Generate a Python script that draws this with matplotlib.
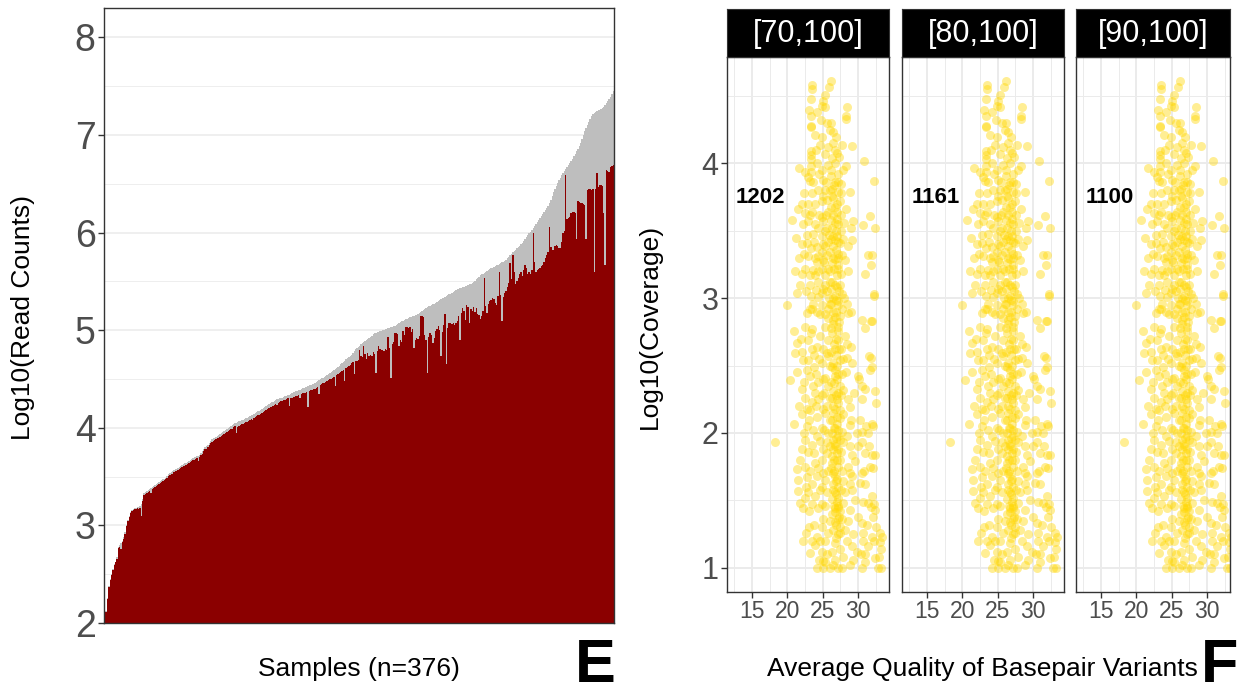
import numpy as np
import matplotlib
matplotlib.use("Agg")
import matplotlib.pyplot as plt

plt.rcParams['font.family'] = ['Liberation Sans', 'DejaVu Sans']

# --- panel E: log10 read counts per sample (sorted by total) ---
total_reads = [
    2.03, 2.12, 2.26, 2.38, 2.45, 2.50, 2.55, 2.60, 2.63, 2.68, 2.78, 2.80, 2.82, 2.84, 2.88, 2.93, 3.00, 3.06, 3.10, 3.14,
    3.16, 3.17, 3.18, 3.18, 3.19, 3.19, 3.20, 3.22, 3.27, 3.33, 3.34, 3.35, 3.36, 3.37, 3.38, 3.39, 3.40, 3.41, 3.42, 3.43,
    3.44, 3.45, 3.46, 3.47, 3.48, 3.49, 3.51, 3.53, 3.54, 3.55, 3.56, 3.57, 3.58, 3.58, 3.59, 3.60, 3.61, 3.62, 3.63, 3.64,
    3.64, 3.65, 3.66, 3.67, 3.68, 3.69, 3.70, 3.70, 3.71, 3.71, 3.72, 3.74, 3.76, 3.78, 3.80, 3.81, 3.82, 3.84, 3.86, 3.88,
    3.89, 3.90, 3.91, 3.92, 3.93, 3.94, 3.95, 3.96, 3.97, 3.98, 3.99, 4.00, 4.01, 4.02, 4.03, 4.04, 4.05, 4.05, 4.06, 4.07,
    4.07, 4.08, 4.08, 4.09, 4.10, 4.10, 4.11, 4.12, 4.13, 4.13, 4.14, 4.15, 4.16, 4.17, 4.17, 4.18, 4.19, 4.20, 4.21, 4.22,
    4.23, 4.24, 4.25, 4.26, 4.26, 4.27, 4.28, 4.29, 4.29, 4.30, 4.31, 4.31, 4.32, 4.33, 4.33, 4.34, 4.34, 4.35, 4.36, 4.37,
    4.37, 4.38, 4.38, 4.39, 4.39, 4.40, 4.41, 4.41, 4.42, 4.42, 4.43, 4.44, 4.44, 4.45, 4.45, 4.46, 4.47, 4.48, 4.49, 4.50,
    4.51, 4.51, 4.52, 4.53, 4.54, 4.55, 4.56, 4.57, 4.58, 4.59, 4.60, 4.61, 4.62, 4.63, 4.65, 4.66, 4.67, 4.68, 4.70, 4.71,
    4.72, 4.74, 4.75, 4.77, 4.79, 4.81, 4.82, 4.83, 4.84, 4.86, 4.87, 4.88, 4.89, 4.90, 4.91, 4.92, 4.93, 4.94, 4.96, 4.97,
    4.97, 4.98, 4.98, 4.99, 4.99, 5.00, 5.00, 5.01, 5.01, 5.02, 5.02, 5.03, 5.03, 5.04, 5.04, 5.05, 5.06, 5.07, 5.08, 5.09,
    5.09, 5.10, 5.11, 5.11, 5.12, 5.13, 5.13, 5.14, 5.14, 5.15, 5.16, 5.17, 5.18, 5.19, 5.20, 5.21, 5.22, 5.23, 5.24, 5.25,
    5.25, 5.26, 5.27, 5.27, 5.28, 5.29, 5.30, 5.31, 5.32, 5.33, 5.33, 5.34, 5.35, 5.36, 5.37, 5.37, 5.38, 5.39, 5.40, 5.41,
    5.42, 5.42, 5.43, 5.43, 5.44, 5.44, 5.45, 5.45, 5.46, 5.47, 5.47, 5.48, 5.49, 5.50, 5.52, 5.53, 5.54, 5.56, 5.57, 5.58,
    5.59, 5.60, 5.61, 5.62, 5.63, 5.64, 5.64, 5.65, 5.66, 5.67, 5.67, 5.68, 5.69, 5.70, 5.70, 5.71, 5.72, 5.74, 5.75, 5.77,
    5.78, 5.80, 5.81, 5.82, 5.84, 5.85, 5.86, 5.88, 5.89, 5.91, 5.93, 5.95, 5.97, 5.99, 6.01, 6.03, 6.05, 6.07, 6.09, 6.11,
    6.13, 6.15, 6.17, 6.19, 6.21, 6.23, 6.25, 6.27, 6.30, 6.33, 6.37, 6.41, 6.45, 6.48, 6.51, 6.54, 6.56, 6.59, 6.61, 6.63,
    6.65, 6.67, 6.69, 6.71, 6.73, 6.75, 6.78, 6.80, 6.83, 6.86, 6.89, 6.92, 6.96, 7.00, 7.04, 7.07, 7.10, 7.13, 7.16, 7.19,
    7.21, 7.22, 7.23, 7.24, 7.25, 7.26, 7.27, 7.28, 7.29, 7.31, 7.33, 7.35, 7.37, 7.39, 7.42, 7.45,
]
mapped_reads = [
    2.02, 2.11, 2.25, 2.37, 2.44, 2.49, 2.54, 2.59, 2.62, 2.66, 2.77, 2.78, 2.76, 2.83, 2.86, 2.91, 2.99, 3.05, 3.09, 3.13,
    3.15, 3.16, 3.17, 3.17, 3.18, 3.17, 3.18, 3.10, 3.25, 3.31, 3.32, 3.33, 3.34, 3.35, 3.33, 3.37, 3.38, 3.39, 3.40, 3.41,
    3.42, 3.43, 3.44, 3.45, 3.46, 3.47, 3.49, 3.51, 3.52, 3.53, 3.53, 3.55, 3.56, 3.56, 3.57, 3.58, 3.59, 3.60, 3.61, 3.61,
    3.62, 3.63, 3.64, 3.65, 3.66, 3.67, 3.67, 3.68, 3.69, 3.66, 3.70, 3.72, 3.73, 3.76, 3.78, 3.78, 3.80, 3.82, 3.84, 3.85,
    3.86, 3.87, 3.88, 3.89, 3.90, 3.91, 3.92, 3.93, 3.94, 3.95, 3.96, 3.97, 3.98, 3.99, 3.99, 4.01, 4.02, 3.95, 4.01, 4.02,
    4.03, 4.04, 4.04, 4.05, 4.06, 4.06, 4.07, 4.08, 4.09, 4.08, 4.10, 4.11, 4.12, 4.13, 4.13, 4.14, 4.15, 4.16, 4.17, 4.18,
    4.19, 4.20, 4.21, 4.21, 4.22, 4.23, 4.24, 4.23, 4.25, 4.26, 4.27, 4.27, 4.28, 4.28, 4.29, 4.30, 4.22, 4.31, 4.31, 4.32,
    4.32, 4.33, 4.33, 4.34, 4.30, 4.35, 4.36, 4.36, 4.36, 4.37, 4.21, 4.38, 4.39, 4.39, 4.40, 4.40, 4.41, 4.42, 4.35, 4.44,
    4.45, 4.46, 4.46, 4.47, 4.48, 4.49, 4.50, 4.50, 4.51, 4.52, 4.43, 4.54, 4.55, 4.56, 4.57, 4.58, 4.59, 4.48, 4.61, 4.62,
    4.63, 4.64, 4.66, 4.67, 4.55, 4.68, 4.68, 4.69, 4.80, 4.74, 4.72, 4.84, 4.76, 4.70, 4.77, 4.74, 4.75, 4.73, 4.78, 4.76,
    4.56, 4.79, 4.84, 4.81, 4.80, 4.80, 4.79, 4.81, 4.80, 4.93, 4.82, 4.51, 4.86, 4.88, 4.97, 4.97, 4.96, 4.84, 4.90, 4.88,
    4.99, 4.95, 5.03, 5.03, 5.02, 5.03, 4.98, 5.01, 4.82, 4.90, 4.92, 4.91, 4.94, 5.14, 5.14, 5.13, 4.95, 4.90, 4.56, 4.93,
    4.97, 4.95, 4.87, 4.92, 4.99, 5.01, 5.04, 5.00, 4.73, 4.98, 5.05, 5.17, 4.65, 5.02, 5.07, 5.07, 5.06, 5.07, 5.05, 5.07,
    5.09, 5.14, 4.90, 5.18, 5.23, 5.20, 5.10, 5.26, 5.24, 5.07, 5.22, 5.20, 5.24, 5.19, 5.23, 5.17, 5.15, 5.11, 5.14, 5.20,
    5.53, 5.25, 5.18, 5.27, 5.30, 5.31, 5.33, 5.32, 5.28, 5.26, 5.35, 5.60, 5.36, 5.09, 5.34, 5.38, 5.40, 5.44, 5.48, 5.69,
    5.52, 5.77, 5.60, 5.47, 5.50, 5.53, 5.58, 5.60, 5.55, 5.62, 5.67, 5.64, 5.57, 5.60, 5.58, 5.62, 5.99, 5.70, 5.60, 5.62,
    5.63, 5.64, 5.66, 5.67, 5.70, 5.74, 5.77, 5.80, 6.06, 5.85, 5.82, 5.82, 5.86, 5.87, 5.86, 5.84, 5.84, 5.90, 5.99, 6.02,
    6.59, 6.14, 6.15, 6.16, 6.20, 6.21, 6.21, 6.20, 5.93, 6.32, 6.31, 6.30, 6.30, 6.29, 6.28, 5.93, 6.44, 6.45, 6.45, 6.44,
    6.45, 5.60, 6.45, 6.61, 6.47, 6.49, 6.49, 6.48, 6.20, 5.67, 6.64, 6.63, 6.62, 6.67, 6.68, 6.69,
]

# --- panel F: average base quality vs log10 coverage per variant ---
facet_labels = ['[70,100]', '[80,100]', '[90,100]']
facet_counts = ['1202', '1161', '1100']

avg_quality = [
    26.17, 25.94, 23.54, 23.54, 25.33, 25.09, 24.95, 23.36, 25.33, 28.38, 28.24, 28.24,
    23.36, 23.36, 23.36, 24.72, 23.92, 24.86, 26.03, 26.50, 26.83, 27.68, 29.08, 24.62,
    23.36, 23.36, 23.36, 25.33, 26.27, 27.30, 30.87, 21.67, 22.51, 23.36, 23.36, 24.15,
    24.86, 25.80, 26.74, 28.24, 32.28, 23.22, 23.69, 25.09, 26.17, 26.74, 27.58, 28.85,
    25.33, 26.27, 27.11, 22.04, 22.98, 23.92, 24.86, 25.56, 26.50, 27.44, 22.51, 23.54,
    24.48, 25.80, 26.97, 20.63, 22.98, 23.92, 25.09, 26.17, 27.21, 29.32, 31.67, 30.73,
    32.37, 29.00, 21.24, 22.75, 23.69, 24.86, 25.89, 26.97, 22.75, 24.15, 25.33, 26.50,
    27.44, 28.62, 29.08, 23.36, 21.67, 22.98, 24.39, 25.56, 26.74, 27.68, 31.34, 32.00,
    31.76, 21.10, 22.51, 23.69, 24.86, 26.03, 27.21, 30.96, 21.81, 23.22, 24.39, 25.33,
    26.36, 27.44, 21.34, 32.28, 32.28, 23.36, 24.39, 25.56, 26.74, 27.68, 19.93, 23.69,
    24.86, 26.03, 27.21, 28.38, 22.75, 24.15, 25.33, 26.50, 27.44, 28.62, 30.49, 31.81,
    26.27, 26.74, 26.17, 26.97, 26.36, 26.74, 26.03, 26.83, 26.27, 26.97, 26.17,
    26.83, 25.80, 25.23, 25.33, 25.56, 24.86, 25.09, 24.15, 23.92, 23.54,
    20.87, 21.34, 21.10, 22.51, 22.98, 23.54, 24.15, 25.33, 26.27, 27.21,
    28.15, 29.00, 30.96, 31.90, 31.53, 31.81, 32.00, 31.67, 30.12, 30.49,
    30.96, 32.37, 32.60, 30.59, 30.02, 29.08, 28.38, 20.40, 22.04, 21.67,
    21.00, 18.19, 22.75, 23.22, 22.98, 23.83, 24.86, 25.80, 24.39, 25.33,
    26.74, 27.68, 27.91, 28.62, 22.51, 23.45, 24.86, 26.03, 27.21, 28.85,
    22.13, 23.08, 24.15, 25.33, 26.27, 27.44, 30.26, 31.06, 31.90, 32.14,
    22.75, 23.69, 24.86, 26.74, 27.68, 28.85, 30.49, 31.43, 22.51, 23.54,
    24.62, 25.56, 26.74, 27.91, 28.85, 30.49, 31.53, 30.96, 31.90, 32.37,
    21.81, 21.34, 22.51, 23.92, 24.86, 26.27, 27.44, 28.62, 29.55, 30.49,
    31.67, 21.48, 21.48, 22.75, 24.15, 25.33, 26.74, 27.91, 29.08, 30.26,
    32.14, 21.81, 22.28, 22.98, 23.92, 24.62, 25.56, 26.27, 27.21, 28.15,
    29.08, 30.73, 31.43, 31.90, 32.28, 32.37, 32.14, 22.51, 23.45, 24.86,
    26.74, 27.21, 27.68, 28.85, 30.02, 30.49, 31.20, 23.83, 24.86, 25.96,
    26.50, 22.65, 22.28, 24.15, 24.62, 25.80, 27.21, 28.15, 29.32, 30.73,
    31.90, 33.08, 33.40, 33.08, 33.31, 32.28, 30.73, 29.08, 29.79, 30.40,
    32.37, 23.22, 23.92, 24.86, 25.56, 26.27, 27.44, 27.91, 25.09, 26.74,
    24.15, 25.09, 26.03, 27.21, 27.68, 30.49, 32.84, 33.31, 25.33, 29.32, 30.96,
    26.50, 27.21, 26.74, 27.44, 26.27, 26.97, 27.44, 26.50, 26.97, 27.44, 26.50,
    26.97, 27.21, 26.50, 26.97, 26.27, 27.21, 26.50, 26.74, 26.97, 25.80, 25.56,
    25.80, 25.56, 25.80, 25.56, 25.80, 23.45, 22.28, 23.69, 23.22,
    26.6, 27.0, 26.4, 26.9, 26.5, 27.1, 26.6, 27.0, 26.5, 26.9, 26.4,
    27.1, 26.6, 26.9, 26.4, 27.1, 26.6, 26.9, 26.4, 27.0, 26.6, 26.9,
    26.4, 27.0, 26.6, 26.9, 26.5, 27.1, 26.8, 27.3, 26.9,
    23.0, 24.2, 25.6, 24.0, 25.8, 26.4, 27.0, 22.9, 24.5, 25.5, 27.2,
    27.8, 22.3, 23.5, 24.3, 25.0, 27.6, 21.5, 23.2, 24.9, 25.5, 27.6,
    28.3, 22.2, 24.3, 25.3, 27.6, 28.0, 22.0, 23.8, 25.0, 25.7, 27.9,
    22.4, 23.9, 25.0, 27.2, 28.2, 22.1, 23.2, 24.3, 25.7, 27.6, 28.6,
    22.6, 24.0, 24.9, 25.9, 27.3, 28.0, 23.2, 24.6, 25.7, 27.7, 29.0,
    21.9, 23.3, 24.6, 25.0, 27.6, 28.5, 22.0, 23.8, 24.5, 27.9,
    21.4, 24.1, 25.0, 27.0, 28.3, 22.4, 23.9, 24.4, 25.2, 27.6,
    29.4, 22.8, 24.0, 25.0, 27.9, 29.0, 22.3, 24.2, 25.2, 27.5,
    28.4, 29.8, 22.9, 23.8, 25.0, 27.6, 29.1, 30.0, 22.0, 23.2,
    24.3, 25.0, 27.7, 28.9, 30.9, 22.6, 23.5, 24.9, 27.6, 28.8,
    31.0, 23.0, 24.3, 25.3, 27.8, 29.5, 31.8, 23.1, 25.0, 27.5,
    28.6, 32.6, 23.5, 25.3, 26.8, 28.4, 31.4, 24.5, 26.4, 28.8,
    31.0, 32.9,
    26.2, 26.8, 26.2, 27.1, 26.0, 26.7, 26.1, 27.2, 26.4, 27.2,
    26.0, 26.7, 27.2, 26.2, 26.8, 27.3, 26.1, 26.9, 26.2, 27.3,
    26.0, 26.7, 26.1, 27.2, 26.3, 26.8, 26.0, 27.2, 26.3, 26.8,
    26.0, 27.1, 26.6, 26.1, 27.0, 26.4, 26.9, 27.2, 26.6, 27.1,
    26.7, 27.4, 26.9, 27.5, 26.3,
]
log10_coverage = [
    4.61, 4.57, 4.58, 4.55, 4.51, 4.46, 4.43, 4.48, 4.42, 4.42, 4.35, 4.33,
    4.35, 4.28, 4.27, 4.32, 4.21, 4.20, 4.25, 4.23, 4.20, 4.14, 4.13, 4.14,
    4.09, 4.06, 4.03, 4.07, 4.04, 4.05, 4.02, 3.97, 3.94, 3.98, 3.94, 4.00,
    3.95, 3.99, 4.00, 3.98, 3.87, 3.87, 3.86, 3.88, 3.91, 3.86, 3.85, 3.79,
    3.80, 3.81, 3.79, 3.70, 3.70, 3.70, 3.72, 3.73, 3.74, 3.72, 3.63, 3.64,
    3.62, 3.64, 3.64, 3.58, 3.57, 3.55, 3.57, 3.58, 3.55, 3.57, 3.61, 3.54,
    3.52, 3.52, 3.45, 3.47, 3.48, 3.46, 3.47, 3.46, 3.41, 3.38, 3.39, 3.39,
    3.41, 3.39, 3.43, 3.37, 3.30, 3.31, 3.31, 3.32, 3.29, 3.32, 3.32, 3.32,
    3.25, 3.20, 3.22, 3.21, 3.22, 3.20, 3.22, 3.18, 3.10, 3.10, 3.12, 3.10,
    3.12, 3.10, 3.04, 3.03, 3.02, 3.02, 3.01, 3.05, 3.02, 3.03, 2.95, 2.96,
    2.95, 2.96, 2.95, 2.96, 2.89, 2.90, 2.88, 2.90, 2.87, 2.89, 2.84, 2.83,
    3.76, 3.68, 3.68, 3.59, 3.52, 3.43, 3.34, 3.36, 3.26, 3.17, 3.07,
    2.99, 2.92, 3.27, 3.17, 3.52, 3.34, 3.07, 3.27, 3.17, 2.92,
    2.76, 2.67, 2.59, 2.79, 2.69, 2.77, 2.64, 2.79, 2.74, 2.79,
    2.72, 2.64, 2.78, 2.83, 2.57, 2.56, 2.49, 2.47, 2.40, 2.35,
    2.33, 2.31, 2.22, 2.25, 2.42, 2.52, 2.56, 2.39, 2.33, 2.20,
    2.07, 1.93, 2.47, 2.42, 2.54, 2.49, 2.52, 2.57, 2.38, 2.41,
    2.47, 2.44, 2.32, 2.25, 2.26, 2.23, 2.28, 2.26, 2.22, 2.19,
    2.14, 2.10, 2.12, 2.15, 2.10, 2.11, 2.10, 2.05, 2.07, 2.05,
    2.05, 2.02, 2.04, 2.04, 2.01, 2.06, 2.01, 2.00, 1.95, 1.91,
    1.94, 1.93, 1.90, 1.93, 1.90, 1.93, 1.90, 1.85, 1.84, 1.84,
    1.80, 1.73, 1.75, 1.78, 1.80, 1.78, 1.80, 1.75, 1.79, 1.70,
    1.75, 1.65, 1.57, 1.67, 1.68, 1.65, 1.68, 1.64, 1.68, 1.63,
    1.74, 1.48, 1.44, 1.56, 1.53, 1.58, 1.56, 1.51, 1.60, 1.56,
    1.58, 1.49, 1.48, 1.53, 1.47, 1.43, 1.38, 1.52, 1.47, 1.47,
    1.41, 1.46, 1.36, 1.43, 1.38, 1.33, 1.32, 1.32, 1.30, 1.35,
    1.28, 1.26, 1.20, 1.23, 1.20, 1.26, 1.25, 1.28, 1.25, 1.26,
    1.23, 1.26, 1.23, 1.19, 1.14, 1.20, 1.20, 1.16, 1.12, 1.10,
    1.07, 1.11, 1.17, 1.12, 1.10, 1.12, 1.14, 1.08, 1.05, 1.06,
    1.00, 1.00, 1.00, 1.00, 1.00, 1.00, 1.00, 1.00, 1.04, 1.06, 1.04,
    2.81, 2.69, 2.62, 2.54, 2.49, 2.40, 2.35, 2.31, 2.25, 2.17, 2.15,
    2.07, 1.98, 1.95, 1.85, 1.83, 1.75, 1.70, 1.56, 1.49, 2.69, 2.59,
    2.35, 2.20, 2.00, 1.85, 1.72, 2.62, 2.54, 2.35, 2.17,
    3.84, 3.70, 3.62, 3.50, 3.46, 3.33, 3.22, 3.08, 3.00, 2.90, 2.84,
    2.76, 2.66, 2.58, 2.52, 2.44, 2.37, 2.28, 2.20, 2.12, 2.04, 1.96,
    1.88, 1.80, 1.72, 1.64, 1.58, 1.52, 1.44, 1.38, 1.32,
    4.40, 4.38, 4.30, 4.10, 4.12, 4.15, 4.08, 3.90, 3.92, 3.86, 3.92,
    3.95, 3.78, 3.78, 3.80, 3.76, 3.78, 3.66, 3.62, 3.60, 3.62, 3.62,
    3.66, 3.55, 3.52, 3.50, 3.50, 3.56, 3.40, 3.42, 3.40, 3.42, 3.44,
    3.33, 3.30, 3.28, 3.30, 3.28, 3.18, 3.17, 3.20, 3.22, 3.18, 3.20,
    3.05, 3.06, 3.04, 3.00, 3.05, 3.00, 2.92, 2.88, 2.85, 2.92, 2.90,
    2.70, 2.74, 2.72, 2.62, 2.62, 2.66, 2.60, 2.58, 2.55, 2.55,
    2.45, 2.44, 2.40, 2.50, 2.45, 2.38, 2.30, 2.25, 2.30, 2.28,
    2.30, 2.18, 2.20, 2.18, 2.14, 2.10, 2.00, 1.98, 2.02, 1.95,
    1.98, 2.00, 1.86, 1.85, 1.88, 1.86, 1.84, 1.90, 1.88, 1.72,
    1.74, 1.70, 1.72, 1.70, 1.72, 1.60, 1.62, 1.60, 1.58, 1.62,
    1.62, 1.42, 1.44, 1.46, 1.48, 1.50, 1.45, 1.30, 1.36, 1.30,
    1.35, 1.30, 1.20, 1.20, 1.18, 1.20, 1.16, 1.06, 1.02, 1.02,
    1.10, 1.08,
    4.30, 4.10, 3.95, 3.86, 3.80, 3.56, 3.44, 3.42, 3.30, 3.25,
    3.12, 3.10, 2.98, 2.96, 2.86, 2.82, 2.78, 2.70, 2.60, 2.62,
    2.50, 2.42, 2.38, 2.30, 2.26, 2.18, 2.10, 2.02, 2.00, 1.92,
    1.90, 1.88, 1.80, 1.74, 1.66, 1.62, 1.55, 1.44, 1.46, 1.36,
    1.34, 1.26, 1.22, 1.42, 1.40,
]
assert len(total_reads) == len(mapped_reads) == 376
assert len(avg_quality) == len(log10_coverage)

W, H = 1239, 696
fig = plt.figure(figsize=(W / 100, H / 100), dpi=100)

TICK = '#4D4D4D'
GRID = '#EBEBEB'
BORDER = '#333333'


def rect(x0, y0, x1, y1):
    # pixel box (from top-left) -> figure fraction
    return [x0 / W, 1 - y1 / H, (x1 - x0) / W, (y1 - y0) / H]


def frame(ax):
    for s in ax.spines.values():
        s.set_color(BORDER)
        s.set_linewidth(1.0)
    ax.set_axisbelow(True)


# ---------------- E ----------------
axE = fig.add_axes(rect(104, 8, 614, 623))
samples = np.arange(1, len(total_reads) + 1)
axE.bar(samples, total_reads, width=1.0, color='#BEBEBE', linewidth=0)
axE.bar(samples, mapped_reads, width=1.0, color='#8B0000', linewidth=0)
axE.set_xlim(0.4, len(total_reads) + 0.6)
axE.set_ylim(2, 8.3)
axE.set_xticks([])
axE.set_yticks(range(2, 9))
axE.set_yticks(np.arange(2.5, 8.0, 1.0), minor=True)
axE.grid(axis='y', which='major', color=GRID, lw=1.1)
axE.grid(axis='y', which='minor', color=GRID, lw=0.6)
axE.tick_params(axis='y', which='major', labelsize=27, labelcolor=TICK,
                color=BORDER, length=4, width=1, pad=2)
axE.tick_params(axis='y', which='minor', length=0)
frame(axE)

fig.text(23 / W, 1 - 317 / H, 'Log10(Read Counts)', rotation=90,
         fontsize=19, ha='center', va='center')
fig.text(359 / W, 1 - 669 / H, 'Samples (n=376)', fontsize=19,
         ha='center', va='center')
fig.text(595 / W, 1 - 667 / H, 'E', fontsize=44, fontweight='bold',
         ha='center', va='center')

# ---------------- F ----------------
panels = [(727, 889), (902, 1064), (1076, 1230)]
px_per_q = 7.07
q_left = 11.46

for k, (x0, x1) in enumerate(panels):
    ax = fig.add_axes(rect(x0, 57, x1, 592))
    ax.scatter(avg_quality, log10_coverage, s=42, color='#FFD700',
               alpha=0.42, linewidths=0)
    ax.set_xlim(q_left, q_left + (x1 - x0) / px_per_q)
    ax.set_ylim(0.82, 4.79)
    ax.set_xticks([15, 20, 25, 30])
    ax.set_xticks([12.5, 17.5, 22.5, 27.5, 32.5], minor=True)
    ax.set_yticks([1, 2, 3, 4])
    ax.set_yticks([1.5, 2.5, 3.5, 4.5], minor=True)
    ax.grid(which='major', color=GRID, lw=1.4)
    ax.grid(which='minor', color=GRID, lw=0.7)
    ax.tick_params(which='minor', length=0)
    ax.tick_params(axis='x', which='major', labelsize=16.5, labelcolor=TICK,
                   color=BORDER, length=4, width=1, pad=2)
    if k == 0:
        ax.tick_params(axis='y', which='major', labelsize=22, labelcolor=TICK,
                       color=BORDER, length=4, width=1, pad=2)
    else:
        ax.tick_params(axis='y', which='major', length=0, labelleft=False)
    ax.text(16.2, 3.75, facet_counts[k], fontsize=16, fontweight='bold',
            ha='center', va='center')
    frame(ax)

    strip = fig.add_axes(rect(x0, 9, x1, 57))
    strip.set_facecolor('black')
    strip.set_xticks([])
    strip.set_yticks([])
    for s in strip.spines.values():
        s.set_color(BORDER)
    strip.text(0.5, 0.48, facet_labels[k], color='white', fontsize=22,
               ha='center', va='center', transform=strip.transAxes)

fig.text(650 / W, 1 - 326 / H, 'Log10(Coverage)', rotation=90,
         fontsize=19, ha='center', va='center')
fig.text(982 / W, 1 - 669 / H, 'Average Quality of Basepair Variants',
         fontsize=19, ha='center', va='center')
fig.text(1220 / W, 1 - 667 / H, 'F', fontsize=44, fontweight='bold',
         ha='center', va='center')

fig.savefig('out.png', dpi=100)
